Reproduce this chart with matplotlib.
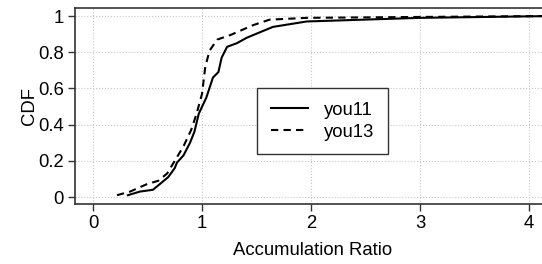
import matplotlib
matplotlib.use("Agg")
import matplotlib.pyplot as plt

plt.rcParams['font.family'] = ['Liberation Sans', 'DejaVu Sans']
plt.rcParams['font.size'] = 13.3

# you11 CDF (solid)
you11_x = [0.32, 0.43, 0.55, 0.63, 0.69, 0.75, 0.77, 0.83, 0.89, 0.93, 0.97,
           1.04, 1.10, 1.15, 1.18, 1.23, 1.32, 1.41, 1.53, 1.65, 1.96, 3.0, 4.2]
you11_y = [0.01, 0.03, 0.04, 0.08, 0.11, 0.16, 0.19, 0.23, 0.30, 0.36, 0.46,
           0.55, 0.66, 0.69, 0.77, 0.83, 0.85, 0.88, 0.91, 0.94, 0.97, 0.99, 1.0]

# you13 CDF (dashed)
you13_x = [0.22, 0.34, 0.49, 0.60, 0.68, 0.74, 0.83, 0.90, 0.95, 1.00, 1.03,
           1.07, 1.14, 1.26, 1.47, 1.62, 1.96, 3.0, 4.2]
you13_y = [0.01, 0.03, 0.07, 0.09, 0.13, 0.19, 0.28, 0.37, 0.46, 0.57, 0.72,
           0.81, 0.87, 0.895, 0.95, 0.98, 0.99, 0.995, 1.0]

xticks = [0, 1, 2, 3, 4]
yticks = [0, 0.2, 0.4, 0.6, 0.8, 1]
ytick_labels = ['0', '0.2', '0.4', '0.6', '0.8', '1']

fig = plt.figure(figsize=(5.42, 2.64), dpi=100)
ax = fig.add_axes([0.1384, 0.227, 0.878, 0.7424])

ax.plot(you11_x, you11_y, color='black', lw=1.5, label='you11')
ax.plot(you13_x, you13_y, color='black', lw=1.5, ls=(0, (3.5, 2.5)), label='you13')

ax.set_xlim(-0.165, 4.2)
ax.set_ylim(-0.039, 1.044)
ax.set_xticks(xticks)
ax.set_yticks(yticks)
ax.set_yticklabels(ytick_labels)
ax.grid(True, ls=':', color='#c8c8c8', lw=0.8)
ax.set_axisbelow(True)
ax.tick_params(direction='out', length=5, width=1, color='#333333', pad=3)
for s in ax.spines.values():
    s.set_color('#333333')
    s.set_linewidth(1.2)
ax.spines['right'].set_visible(False)

ax.set_xlabel('Accumulation Ratio', labelpad=7)
ax.set_ylabel('CDF', labelpad=0)

leg = ax.legend(loc='upper left', bbox_to_anchor=(0.3825, 0.592), borderaxespad=0,
                fancybox=False, framealpha=1, edgecolor='#333333',
                handlelength=2.0, handletextpad=0.85, borderpad=0.75, labelspacing=0.25)
leg.get_frame().set_linewidth(1.0)

fig.savefig('out.png', dpi=100)
